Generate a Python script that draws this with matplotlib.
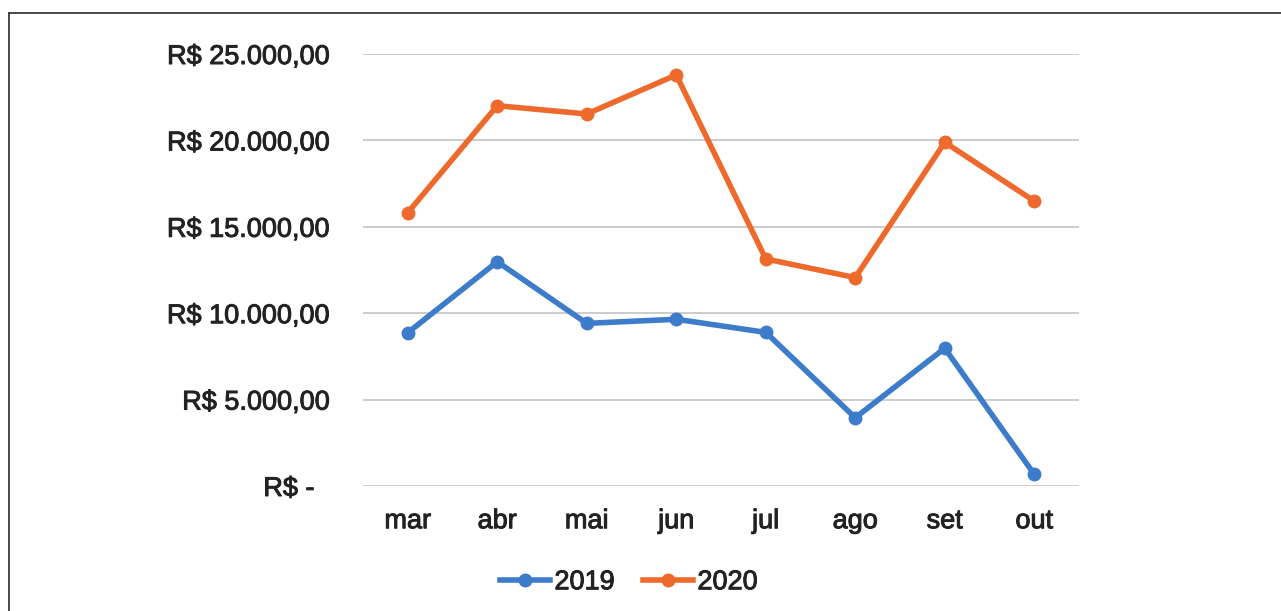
import matplotlib.pyplot as plt
import matplotlib.patheffects as pe
from matplotlib.lines import Line2D

months = ['mar', 'abr', 'mai', 'jun', 'jul', 'ago', 'set', 'out']
vendas_2019 = [8870, 12980, 9410, 9650, 8890, 3950, 7970, 680]
vendas_2020 = [15820, 22010, 21530, 23790, 13140, 12060, 19890, 16490]
y_ticks = [0, 5000, 10000, 15000, 20000, 25000]

blue = '#3d7ccb'
orange = '#ee6a2c'
text_color = '#222222'

plt.rcParams['font.family'] = ['Liberation Sans', 'DejaVu Sans']

heavy = [pe.withStroke(linewidth=0.7, foreground=text_color)]


def brl(v):
    if v == 0:
        return 'R$ -  '
    s = f'{v:,.2f}'.replace(',', 'X').replace('.', ',').replace('X', '.')
    return 'R$ ' + s


def plot_lines():
    fig = plt.figure(figsize=(12.81, 6.11), dpi=100)
    ax = fig.add_axes([0.2834, 0.2046, 0.5589, 0.707])

    x = range(len(months))
    ax.plot(x, vendas_2019, '-o', color=blue, lw=4, ms=9, label='2019', zorder=3)
    ax.plot(x, vendas_2020, '-o', color=orange, lw=4, ms=9, label='2020', zorder=3)

    ax.set_xlim(-0.5, len(months) - 0.5)
    ax.set_ylim(0, 25000)
    ax.set_yticks(y_ticks)
    ax.set_yticklabels([brl(v) for v in y_ticks])
    ax.set_xticks(list(x))
    ax.set_xticklabels(months)
    ax.tick_params(axis='y', length=0, pad=24, labelsize=19.5, labelcolor=text_color)
    ax.tick_params(axis='x', length=0, pad=16, labelsize=19.5, labelcolor=text_color)
    for t in ax.get_xticklabels() + ax.get_yticklabels():
        t.set_path_effects(heavy)
    ax.grid(axis='y', color='#c4c4c4', lw=1.2)
    ax.set_axisbelow(True)
    for sp in ax.spines.values():
        sp.set_visible(False)

    handles = [Line2D([], [], color=blue, lw=4, marker='o', ms=9),
               Line2D([], [], color=orange, lw=4, marker='o', ms=9)]
    leg = fig.legend(handles, ['2019', '2020'], loc='center', bbox_to_anchor=(0.491, 0.047),
                     ncol=2, frameon=False, fontsize=19.5, handlelength=1.85,
                     handletextpad=0.15, columnspacing=1.05, labelcolor=text_color)
    for t in leg.get_texts():
        t.set_path_effects(heavy)

    # outer frame (top and left edges)
    fig.add_artist(Line2D([9 / 1281, 1], [1 - 13 / 611, 1 - 13 / 611],
                          transform=fig.transFigure, color='#3a3a3a', lw=1.3))
    fig.add_artist(Line2D([9 / 1281, 9 / 1281], [0, 1 - 13 / 611],
                          transform=fig.transFigure, color='#3a3a3a', lw=1.3))

    fig.savefig('out.png', dpi=100, facecolor='white')


if __name__ == '__main__':
    plot_lines()
